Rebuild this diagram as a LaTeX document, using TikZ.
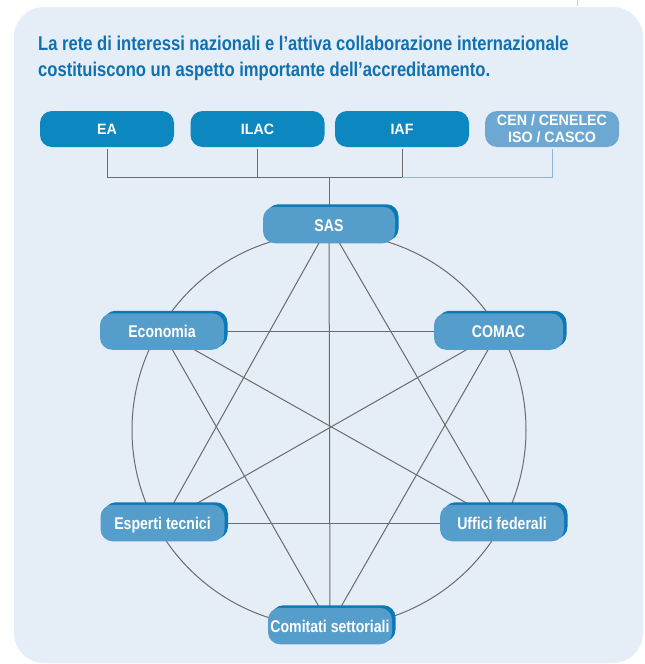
\documentclass[tikz,border=0pt]{standalone}
\usepackage{fontspec}
\newfontfamily\condsans{Liberation Sans}[FakeStretch=0.83]
\newfontfamily\topsans{Liberation Sans}[FakeStretch=0.95]
\usetikzlibrary{shadows}

\definecolor{panelblue}{HTML}{E5EEF7}
\definecolor{titleblue}{HTML}{1070B0}
\definecolor{topblue}{HTML}{0C87C0}
\definecolor{cenblue}{HTML}{6DA8D3}
\definecolor{netblue}{HTML}{559DCB}
\definecolor{netdark}{HTML}{0B79B6}
\definecolor{linkgray}{HTML}{6B6B6B}
\definecolor{linklight}{HTML}{8FB6DA}

\pgfdeclarelayer{panel}
\pgfdeclarelayer{links}
\pgfsetlayers{panel,links,main}

\tikzset{
	titletext/.style={inner sep=0pt, text=titleblue, font=\condsans\bfseries\fontsize{20}{26}\selectfont},
	boxbase/.style={rounded corners=12pt, inner sep=0pt, text=white, align=center},
	topbox/.style={boxbase, fill=topblue, minimum width=134pt, minimum height=36pt, text height=10.7pt, text depth=0pt, font=\topsans\bfseries\fontsize{15}{16.7}\selectfont},
	cenbox/.style={boxbase, fill=cenblue, minimum width=134pt, minimum height=36pt, font=\topsans\bfseries\fontsize{15}{16.7}\selectfont},
	netbox/.style={boxbase, fill=netblue, minimum width=124pt, minimum height=36.5pt, text height=12.2pt, text depth=0pt, font=\condsans\bfseries\fontsize{17}{20}\selectfont, general shadow={fill=netdark, shadow xshift=3.5pt, shadow yshift=2.5pt}},
	netlink/.style={line width=1pt, color=linkgray},
	cenlink/.style={line width=1pt, color=linklight}
}

\begin{document}
\begin{tikzpicture}[x=1pt,y=-1pt]
		%%%%% START %%%%%
		\useasboundingbox (0,0) rectangle (645,664);
		
		\begin{pgfonlayer}{panel}
		\fill[white] (0,0) rectangle (645,664);
		\draw[line width=0.6pt, color=black!18] (577,0) -- (577,6);
		\fill[panelblue, rounded corners=30pt] (14,7) rectangle (643,663);
		\end{pgfonlayer}
		
		\node[titletext, anchor=base west] (title1) at (38,50.7) {La rete di interessi nazionali e l’attiva collaborazione internazionale};
		\node[titletext, anchor=base west] (title2) at (38,76.7) {costituiscono un aspetto importante dell’accreditamento.};
		
		\node[topbox] (ea) at (107,129) {EA};
		\node[topbox] (ilac) at (257.5,129) {ILAC};
		\node[topbox] (iaf) at (402,129) {IAF};
		\node[cenbox] (cen) at (552,129) {CEN / CENELEC\\ISO / CASCO};
		
		\node[netbox, minimum width=132pt] (sas) at (329,225) {SAS};
		\node[netbox] (economia) at (162,331.5) {Economia};
		\node[netbox, minimum width=129pt] (comac) at (498.5,331.5) {COMAC};
		\node[netbox] (esperti) at (162.5,523) {Esperti tecnici};
		\node[netbox] (uffici) at (502,523) {Uffici federali};
		\node[netbox] (comitati) at (330,626) {Comitati settoriali};
		
		\begin{pgfonlayer}{links}
		\coordinate (hub) at (329,177);
		\draw[netlink, shorten <=2pt] (ea) |- (hub);
		\draw[netlink, shorten <=2pt] (ilac) |- (hub);
		\draw[netlink, shorten <=2pt] (iaf) |- (hub);
		\draw[cenlink, shorten <=2pt] (cen) |- (iaf |- hub);
		\draw[netlink] (hub) -- (sas);
		
		\draw[netlink] (329,430) circle [radius=197pt];
		\foreach \from/\to in {sas/esperti, sas/comitati, sas/uffici, economia/comac, economia/comitati, economia/uffici, comac/esperti, comac/comitati, esperti/uffici}
			\draw[netlink] (\from.center) -- (\to.center);
		\end{pgfonlayer}
		%%%%% END %%%%%
\end{tikzpicture}
\end{document}
